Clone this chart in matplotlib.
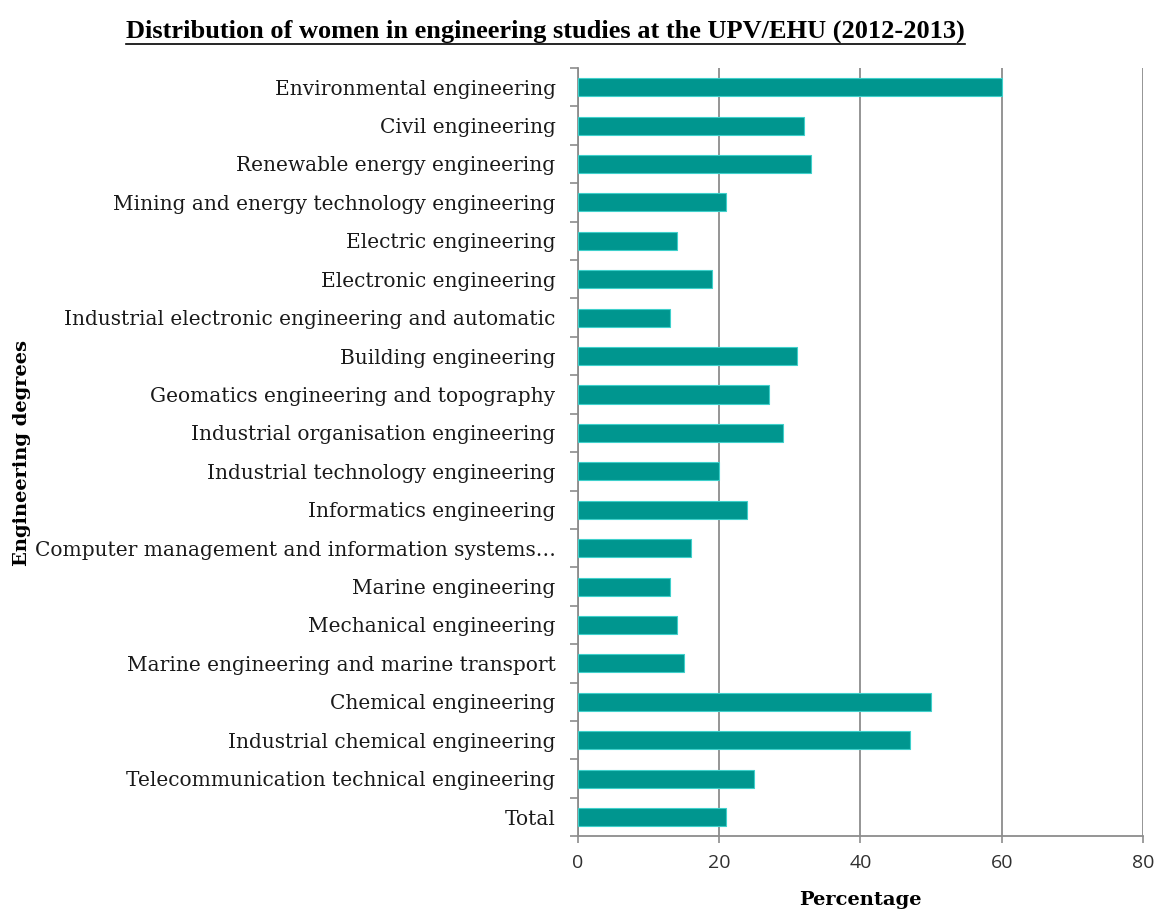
import matplotlib
matplotlib.use("Agg")
import matplotlib.pyplot as plt
from matplotlib.lines import Line2D
import numpy as np

# degrees, top to bottom as in the chart
degrees = [
    "Environmental engineering",
    "Civil engineering",
    "Renewable energy engineering",
    "Mining and energy technology engineering",
    "Electric engineering",
    "Electronic engineering",
    "Industrial electronic engineering and automatic",
    "Building engineering",
    "Geomatics engineering and topography",
    "Industrial organisation engineering",
    "Industrial technology engineering",
    "Informatics engineering",
    "Computer management and information systems\u2026",
    "Marine engineering",
    "Mechanical engineering",
    "Marine engineering and marine transport",
    "Chemical engineering",
    "Industrial chemical engineering",
    "Telecommunication technical engineering",
    "Total",
]
percentage = [60, 32, 33, 21, 14, 19, 13, 31, 27, 29, 20, 24, 16, 13, 14, 15, 50, 47, 25, 21]
xticks = [0, 20, 40, 60, 80]

barColor = "#00968F"
edgeColor = "#3FD0CB"
axisGrey = "#8C8C8C"
serif = ["DejaVu Serif"]

fig = plt.figure(figsize=(11.58, 9.18), dpi=100)
ax = fig.add_axes([0.499, 0.089, 0.488, 0.837])

pos = np.arange(len(degrees))
ax.barh(pos, percentage, height=0.47, color=barColor, edgecolor=edgeColor,
        linewidth=0.8, zorder=3)

ax.set_xlim(0, 80)
ax.set_ylim(len(degrees) - 0.5, -0.5)

# x axis
ax.set_xticks(xticks)
ax.set_xticklabels([str(t) for t in xticks], fontsize=14, family="Open Sans",
                   color="#303030")
ax.tick_params(axis="x", length=5, width=1.2, color=axisGrey, pad=8)
ax.grid(axis="x", color=axisGrey, linewidth=1.3, zorder=0)

# y axis: ticks between categories, labels at centres
ax.set_yticks(np.arange(-0.5, len(degrees), 1.0))
ax.set_yticklabels([])
ax.tick_params(axis="y", which="major", length=6, width=1.2, color=axisGrey)
ax.set_yticks(pos, minor=True)
ax.set_yticklabels(degrees, minor=True, fontsize=14.5, family=serif, color="#1a1a1a")
ax.tick_params(axis="y", which="minor", length=0, pad=16)

for side in ["top", "right"]:
    ax.spines[side].set_visible(False)
for side in ["left", "bottom"]:
    ax.spines[side].set_color(axisGrey)
    ax.spines[side].set_linewidth(1.3)

fig.text(0.743, 0.010, "Percentage", ha="center", va="bottom", fontsize=14,
         fontweight="bold", family=serif)
fig.text(0.019, 0.507, "Engineering degrees", ha="center", va="center",
         rotation=90, fontsize=14, fontweight="bold", family=serif)

title = fig.text(0.471, 0.959, "Distribution of women in engineering studies at the UPV/EHU (2012-2013)",
                 ha="center", va="baseline", fontsize=19, fontweight="bold",
                 family=["Liberation Serif"], stretch="condensed")

# underline the title
fig.canvas.draw()
bb = title.get_window_extent().transformed(fig.transFigure.inverted())
yLine = 0.959 - 0.007
fig.add_artist(Line2D([bb.x0, bb.x1], [yLine, yLine], color="black",
                      linewidth=1.2, transform=fig.transFigure))

fig.savefig("out.png", dpi=100)
